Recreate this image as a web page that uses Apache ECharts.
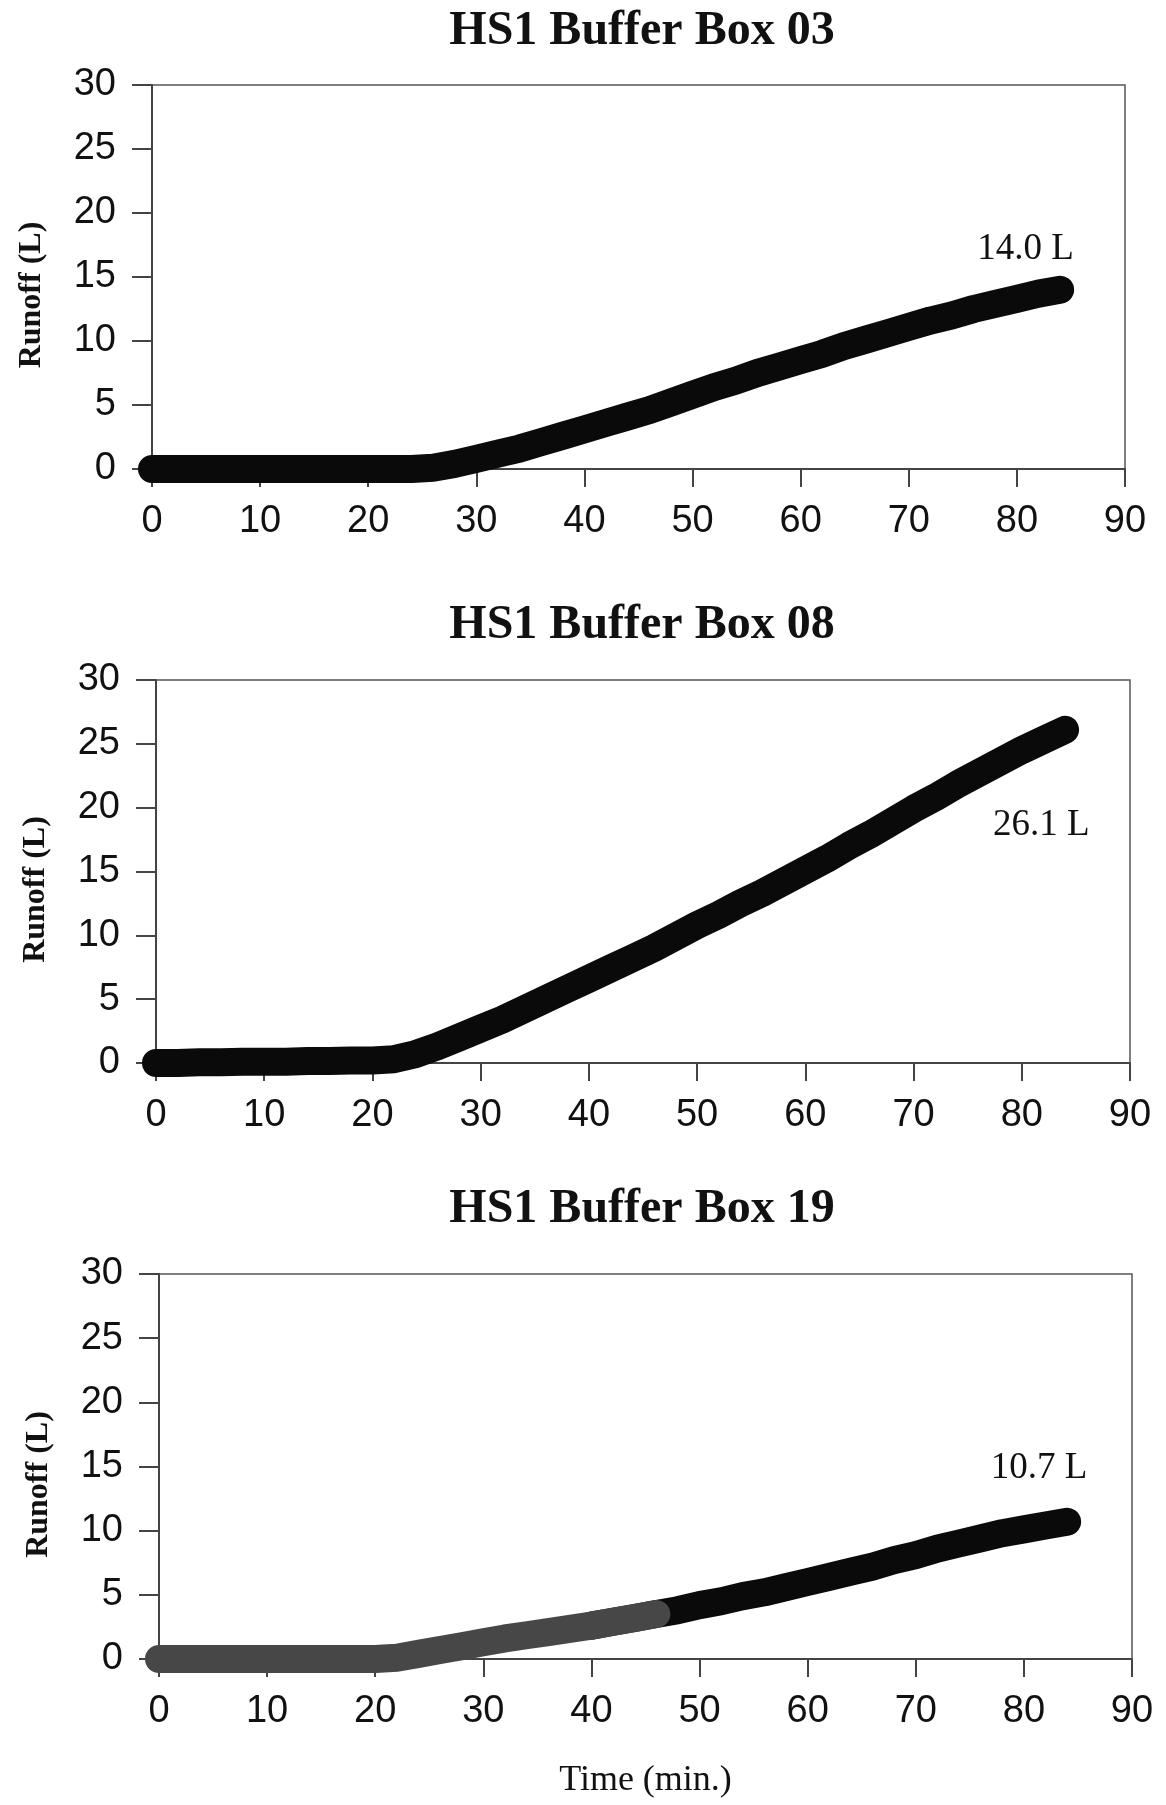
<!DOCTYPE html>
<html><head><meta charset="utf-8">
<script src="https://cdn.jsdelivr.net/npm/echarts@6/dist/echarts.min.js"></script>
<style>html,body{margin:0;padding:0;background:#fff}#c{width:1166px;height:1805px}</style>
</head><body><div id="c"></div>
<script>
const chartTitles = ['HS1 Buffer Box 03', 'HS1 Buffer Box 08', 'HS1 Buffer Box 19'];
const yAxisName = 'Runoff (L)';
const xAxisName = 'Time (min.)';

const time = [0,2,4,6,8,10,12,14,16,18,20,22,24,26,28,30,32,34,36,38,40,42,44,46,48,50,52,54,56,58,60,62,64,66,68,70,72,74,76,78,80,82,84];
const runoff03 = [0,0,0,0,0,0,0,0,0,0,0,0,0,0.1,0.4,0.8,1.2,1.6,2.1,2.6,3.1,3.6,4.1,4.6,5.2,5.8,6.4,6.9,7.5,8.0,8.5,9.0,9.6,10.1,10.6,11.1,11.6,12.0,12.5,12.9,13.3,13.7,14.0];
const runoff08 = [0,0,0.05,0.05,0.1,0.1,0.1,0.15,0.15,0.2,0.2,0.3,0.7,1.3,2.0,2.7,3.4,4.2,5.0,5.8,6.6,7.4,8.2,9.0,9.9,10.8,11.6,12.5,13.3,14.2,15.1,16.0,17.0,17.9,18.9,19.9,20.8,21.8,22.7,23.6,24.5,25.3,26.1];
const time19a = [0,2,4,6,8,10,12,14,16,18,20,22,24,26,28,30,32,34,36,38,40,42,44,46];
const runoff19a = [0,0,0,0,0,0,0,0,0,0,0,0.1,0.4,0.7,1.0,1.3,1.6,1.85,2.1,2.35,2.6,2.9,3.2,3.5];
const time19b = [40,42,44,46,48,50,52,54,56,58,60,62,64,66,68,70,72,74,76,78,80,82,84];
const runoff19b = [2.6,2.9,3.2,3.5,3.8,4.2,4.5,4.9,5.2,5.6,6.0,6.4,6.8,7.2,7.7,8.1,8.6,9.0,9.4,9.8,10.1,10.4,10.7];

const totalLabels = ['14.0 L', '26.1 L', '10.7 L'];
const totalLabelX = [80.8, 81.8, 81.4];
const totalLabelY = [17.2, 18.6, 14.9];

const xTickMin = 0, xTickMax = 90, xTickStep = 10;
const yTickMin = 0, yTickMax = 30, yTickStep = 5;

const pair = (xs, ys) => xs.map((x, i) => [x, ys[i]]);

const grids = [
  {left: 152, width: 973, top: 85, height: 384},
  {left: 156, width: 974, top: 680, height: 383},
  {left: 159, width: 973, top: 1274, height: 385}
];
const titleTops = [3, 597, 1181];

const serif = "'Liberation Serif','Times New Roman',serif";
const tickFont = {fontFamily: "'Liberation Sans',Arial,sans-serif", fontSize: 38, color: '#111'};
const lineCol = '#444';

const option = {
  backgroundColor: '#fff',
  animation: false,
  title: chartTitles.map((t, i) => ({
    text: t, left: 637, top: titleTops[i], textAlign: 'center',
    textStyle: {fontFamily: serif, fontWeight: 'bold', fontSize: 48, color: '#111'}
  })),
  grid: grids.map(g => Object.assign({show: true, borderColor: '#555', borderWidth: 1.5, backgroundColor: 'transparent'}, g)),
  xAxis: grids.map((g, i) => ({
    gridIndex: i, type: 'value', min: xTickMin, max: xTickMax, interval: xTickStep,
    axisLine: {show: true, onZero: false, lineStyle: {color: lineCol, width: 2}},
    axisTick: {show: true, inside: false, length: 18, lineStyle: {color: lineCol, width: 2}},
    splitLine: {show: false},
    axisLabel: Object.assign({margin: 32, lineHeight: 42}, tickFont),
    name: i === 2 ? xAxisName : '', nameLocation: 'middle', nameGap: 104,
    nameTextStyle: {fontFamily: serif, fontSize: 36, color: '#111'}
  })),
  yAxis: grids.map((g, i) => ({
    gridIndex: i, type: 'value', min: yTickMin, max: yTickMax, interval: yTickStep,
    axisLine: {show: true, onZero: false, lineStyle: {color: lineCol, width: 2}},
    axisTick: {show: true, inside: false, length: 20, lineStyle: {color: lineCol, width: 2}},
    splitLine: {show: false},
    axisLabel: Object.assign({margin: 36}, tickFont),
    name: yAxisName, nameLocation: 'middle', nameGap: 104, nameRotate: 90,
    nameTextStyle: {fontFamily: serif, fontWeight: 'bold', fontSize: 32, color: '#111', padding: [0, 36, 0, 0]}
  })),
  series: [
    {data: pair(time, runoff03), idx: 0, color: '#0a0a0a'},
    {data: pair(time, runoff08), idx: 1, color: '#0a0a0a'},
    {data: pair(time19b, runoff19b), idx: 2, color: '#0a0a0a'},
    {data: pair(time19a, runoff19a), idx: 2, color: '#474747'}
  ].map((s, k) => ({
    type: 'line', xAxisIndex: s.idx, yAxisIndex: s.idx, data: s.data,
    showSymbol: false, symbol: 'none', z: 2 + k,
    lineStyle: {color: s.color, width: 28, cap: 'round', join: 'round'},
    markPoint: (k === 3) ? undefined : {
      symbol: 'circle', symbolSize: 0, silent: true,
      data: [{coord: [totalLabelX[s.idx], totalLabelY[s.idx]], value: totalLabels[s.idx]}],
      label: {show: true, position: 'inside', formatter: totalLabels[s.idx],
        fontFamily: serif, fontSize: 37, color: '#111'}
    }
  }))
};

const chart = echarts.init(document.getElementById('c'), null, {renderer: 'canvas'});
chart.setOption(option);
</script>
</body></html>
